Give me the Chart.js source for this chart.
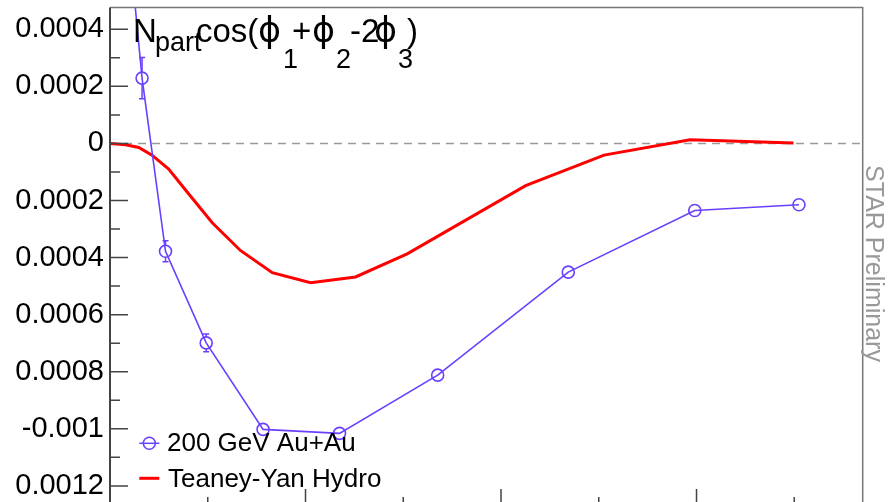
<!DOCTYPE html>
<html><head><meta charset="utf-8">
<script src="https://cdn.jsdelivr.net/npm/chart.js@4"></script>
<style>
html,body{margin:0;padding:0;background:#fff;overflow:hidden}
#wrap{width:889px;height:502px;overflow:hidden;position:relative;background:#fff}
canvas{display:block}
</style></head><body>
<div id="wrap"><canvas id="c" width="889" height="515"></canvas></div>
<script>
// ---- data ----
const dataNpart  = [7, 16.4, 28.4, 49.2, 78.3, 117.4, 167.6, 234.4, 299.1, 352.4];
const dataValues = [0.0009, 0.000229, -0.000378, -0.000699, -0.001002, -0.001016, -0.000812, -0.000451, -0.000235, -0.000215];
const dataErrors = [0.00004, 0.000072, 0.000037, 0.000031, 0.000015, 0.000015, 0.000015, 0.000012, 0.000012, 0.000012];

const hydroNpart  = [0, 8, 14.7, 21.5, 30, 40.3, 52.3, 66.7, 83, 102.6, 125.6, 152, 212.6, 252.7, 296.7, 349.6];
const hydroValues = [0, -0.0000045, -0.000014, -0.000041, -0.00009, -0.000177, -0.000278, -0.000375, -0.000453, -0.000488, -0.000468, -0.000387, -0.000148, -0.000041, 0.000013, 0.0000014];

const yMajorTicks = [0.0004, 0.0002, 0, -0.0002, -0.0004, -0.0006, -0.0008, -0.001, -0.0012];
const yTickLabels = ['0.0004', '0.0002', '0', '0.0002', '0.0004', '0.0006', '0.0008', '-0.001', '0.0012'];
const yMinorTicks = [0.0003, 0.0001, -0.0001, -0.0003, -0.0005, -0.0007, -0.0009, -0.0011];
const xMajorTicks = [100, 200, 300];
const xMinorTicks = [50, 150, 250, 350];

const seriesLabels = ['200 GeV Au+Au', 'Teaney-Yan Hydro'];
const sideText = 'STAR Preliminary';

const BLUE = '#6a40ff';
const RED = '#ff0000';
const FONT = '"Liberation Sans", Arial, Helvetica, sans-serif';
const PHIFONT = '"DejaVu Sans", "Liberation Sans", sans-serif';

function labelFor(v){
  const i = yMajorTicks.findIndex(m => Math.abs(m - v) < 1e-9);
  return i >= 0 ? yTickLabels[i] : '';
}

const decor = {
  id: 'decor',
  beforeDatasetsDraw(chart){
    const {ctx, chartArea: a, scales: {y}} = chart;
    ctx.save();
    ctx.strokeStyle = '#9a9a9a';
    ctx.lineWidth = 1.5;
    ctx.setLineDash([8, 6]);
    const y0 = y.getPixelForValue(0);
    ctx.beginPath(); ctx.moveTo(a.left, y0); ctx.lineTo(a.right, y0); ctx.stroke();
    ctx.restore();
  },
  afterDatasetsDraw(chart){
    const {ctx, chartArea: a, scales: {x, y}} = chart;
    const r = 6;
    ctx.save();
    ctx.beginPath(); ctx.rect(a.left, a.top, a.right - a.left, a.bottom - a.top); ctx.clip();
    ctx.strokeStyle = BLUE; ctx.lineWidth = 1.5;
    dataNpart.forEach((n, i) => {
      const px = x.getPixelForValue(n);
      const py = y.getPixelForValue(dataValues[i]);
      const up = y.getPixelForValue(dataValues[i] + dataErrors[i]);
      const dn = y.getPixelForValue(dataValues[i] - dataErrors[i]);
      if (py - up > r + 1) {
        ctx.beginPath();
        ctx.moveTo(px, up); ctx.lineTo(px, py - r);
        ctx.moveTo(px, py + r); ctx.lineTo(px, dn);
        ctx.moveTo(px - 3, up); ctx.lineTo(px + 3, up);
        ctx.moveTo(px - 3, dn); ctx.lineTo(px + 3, dn);
        ctx.stroke();
      }
    });
    ctx.restore();
  },
  afterDraw(chart){
    const {ctx, chartArea: a, scales: {x, y}} = chart;
    ctx.save();
    // frame
    ctx.strokeStyle = '#777'; ctx.lineWidth = 1.5;
    ctx.beginPath();
    ctx.moveTo(a.left, a.top); ctx.lineTo(a.right, a.top); ctx.lineTo(a.right, a.bottom);
    ctx.stroke();
    ctx.strokeStyle = '#444'; ctx.lineWidth = 2;
    ctx.beginPath(); ctx.moveTo(a.left, a.top); ctx.lineTo(a.left, a.bottom); ctx.lineTo(a.right, a.bottom); ctx.stroke();
    // ticks (inward)
    ctx.lineWidth = 1.5; ctx.strokeStyle = '#444';
    ctx.beginPath();
    yMajorTicks.forEach(v => { const p = y.getPixelForValue(v); ctx.moveTo(a.left, p); ctx.lineTo(a.left + 18, p); });
    yMinorTicks.forEach(v => { const p = y.getPixelForValue(v); ctx.moveTo(a.left, p); ctx.lineTo(a.left + 10, p); });
    xMajorTicks.forEach(v => { const p = x.getPixelForValue(v); ctx.moveTo(p, a.bottom); ctx.lineTo(p, a.bottom - 18); });
    xMinorTicks.forEach(v => { const p = x.getPixelForValue(v); ctx.moveTo(p, a.bottom); ctx.lineTo(p, a.bottom - 10); });
    ctx.stroke();

    // title  N_part cos(phi1+phi2-2phi3)
    ctx.fillStyle = '#000';
    ctx.textAlign = 'left'; ctx.textBaseline = 'alphabetic';
    const main = '33px ' + FONT, sub = '27px ' + FONT, phi = '35px ' + PHIFONT;
    const base = 42.3;
    const segs = [
      ['N', main, 133, 0], ['part', sub, 155, 8.4], ['cos(', main, 196, 0],
      ['ϕ', phi, 258, 0], ['1', sub, 283, 26], ['+', main, 292, 0],
      ['ϕ', phi, 312, 0], ['2', sub, 336, 26], ['-2', main, 350, 0],
      ['ϕ', phi, 374, 0], ['3', sub, 398, 26], [')', main, 407, 0]
    ];
    segs.forEach(s => { ctx.font = s[1]; ctx.fillText(s[0], s[2], base + s[3]); });

    // legend
    ctx.strokeStyle = BLUE; ctx.lineWidth = 1.5;
    ctx.beginPath(); ctx.moveTo(139.3, 443.3); ctx.lineTo(159.3, 443.3); ctx.stroke();
    ctx.beginPath(); ctx.arc(149.3, 443.3, 6, 0, Math.PI * 2); ctx.stroke();
    ctx.strokeStyle = RED; ctx.lineWidth = 3;
    ctx.beginPath(); ctx.moveTo(139.3, 478.3); ctx.lineTo(159.3, 478.3); ctx.stroke();
    ctx.fillStyle = '#000';
    ctx.font = '26px ' + FONT;
    ctx.fillText(seriesLabels[0], 167, 450.5);
    ctx.fillText(seriesLabels[1], 168, 487);

    // side text
    ctx.save();
    ctx.translate(866, 263.5);
    ctx.rotate(Math.PI / 2);
    ctx.fillStyle = '#999';
    ctx.font = '25px ' + FONT;
    ctx.textAlign = 'center'; ctx.textBaseline = 'alphabetic';
    ctx.fillText(sideText, 0, 0);
    ctx.restore();
    ctx.restore();
  }
};

new Chart(document.getElementById('c'), {
  type: 'scatter',
  data: {
    datasets: [
      {
        label: seriesLabels[0],
        data: dataNpart.map((n, i) => ({x: n, y: dataValues[i]})),
        showLine: true,
        borderColor: BLUE,
        borderWidth: 1.6,
        pointRadius: 6,
        pointHoverRadius: 6,
        pointBorderWidth: 1.6,
        pointBackgroundColor: 'rgba(0,0,0,0)',
        pointBorderColor: BLUE,
        tension: 0,
        order: 0
      },
      {
        label: seriesLabels[1],
        data: hydroNpart.map((n, i) => ({x: n, y: hydroValues[i]})),
        showLine: true,
        borderColor: RED,
        borderWidth: 3,
        pointRadius: 0,
        pointHoverRadius: 0,
        tension: 0,
        order: 1
      }
    ]
  },
  options: {
    responsive: false,
    animation: false,
    devicePixelRatio: 1,
    events: [],
    layout: {padding: {left: 0, top: 6.5, right: 26.3, bottom: 8}},
    plugins: {legend: {display: false}, tooltip: {enabled: false}, title: {display: false}},
    scales: {
      x: {
        type: 'linear', min: 0, max: 385,
        grid: {display: false, drawTicks: false},
        border: {display: false},
        ticks: {display: false},
        afterFit(s){ s.height = 0; s.paddingLeft = 0; s.paddingRight = 0; }
      },
      y: {
        type: 'linear', min: -0.001274, max: 0.000476,
        grid: {display: false, drawTicks: false},
        border: {display: false},
        afterBuildTicks(s){
          s.ticks = yMajorTicks.concat(yMinorTicks).sort((p, q) => p - q).map(v => ({value: v}));
        },
        afterFit(s){ s.width = 110; s.paddingTop = 0; s.paddingBottom = 0; },
        ticks: {
          autoSkip: false,
          padding: 6,
          color: '#000',
          font: {family: FONT, size: 29},
          callback: (v) => labelFor(v)
        }
      }
    }
  },
  plugins: [decor]
});
</script>
</body></html>
